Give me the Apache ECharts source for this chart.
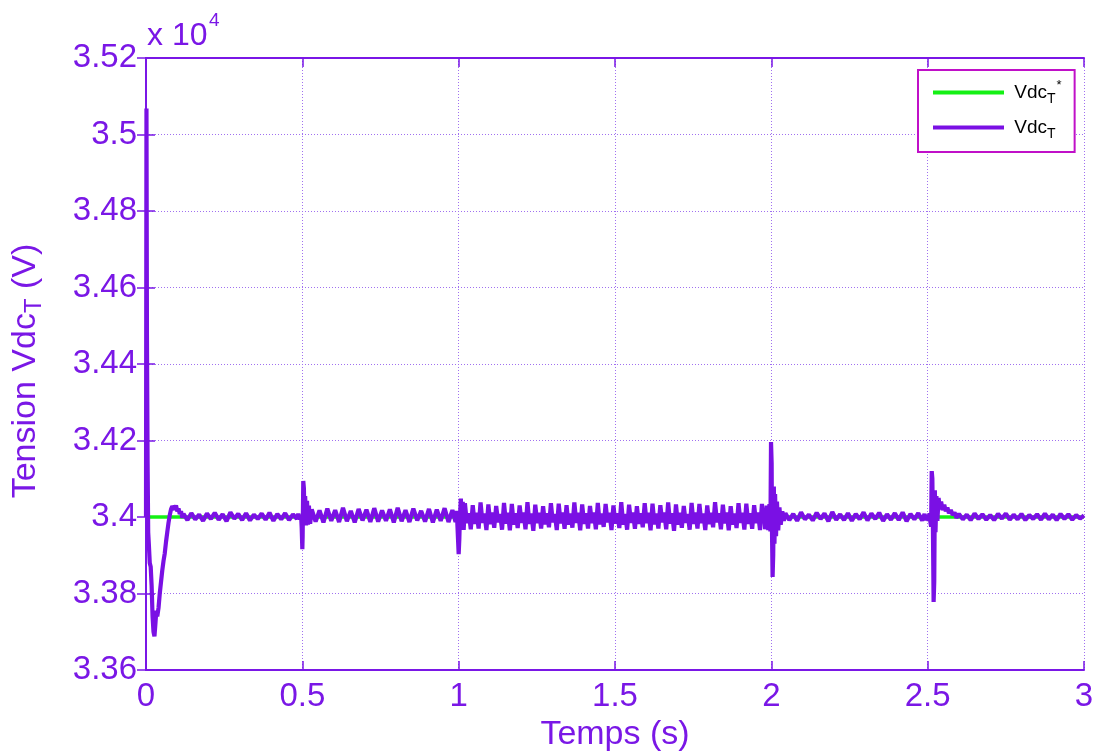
<!DOCTYPE html>
<html>
<head>
<meta charset="utf-8">
<script src="https://cdn.jsdelivr.net/npm/echarts@6/dist/echarts.min.js"></script>
<style>
html,body{margin:0;padding:0;background:#fff;}
#chart{width:1094px;height:756px;}
</style>
</head>
<body>
<div id="chart"></div>
<script>
// ---- Data (time in s, voltage in V) ----
const xTicks = [0, 0.5, 1, 1.5, 2, 2.5, 3];
const yTicks = [33600, 33800, 34000, 34200, 34400, 34600, 34800, 35000, 35200];

// Reference Vdc_T*
const refTime = [0, 3];
const refValue = [34000, 34000];

// Vdc_T : transient events, explicit [t, V]
const eventStart = [
  [0, 34000], [0.0015, 35068], [0.003, 34478], [0.005, 34150], [0.007, 33960], [0.009, 33930],
  [0.012, 33880], [0.015, 33870], [0.018, 33820], [0.021, 33740], [0.024, 33700], [0.027, 33688],
  [0.030, 33720], [0.033, 33755], [0.036, 33740], [0.040, 33762], [0.044, 33800], [0.048, 33830],
  [0.052, 33860], [0.056, 33885], [0.060, 33905], [0.064, 33935], [0.068, 33960], [0.072, 33985],
  [0.076, 34005], [0.080, 34020], [0.084, 34028], [0.088, 34033], [0.092, 34020], [0.096, 34030],
  [0.100, 34015], [0.104, 34022], [0.108, 34008], [0.112, 34015], [0.116, 33998]
];
const event05 = [
  [0.487, 34008], [0.492, 33994], [0.496, 34006], [0.498, 33970], [0.500, 33916], [0.501, 33950],
  [0.503, 34094], [0.505, 34075], [0.507, 33985], [0.509, 34055], [0.512, 33978], [0.515, 34042],
  [0.518, 33980], [0.521, 34030], [0.525, 33982]
];
const event10 = [
  [0.985, 34018], [0.990, 33987], [0.994, 34016], [0.997, 33960], [1.000, 33903], [1.002, 33940],
  [1.004, 34000], [1.007, 34048], [1.010, 33972], [1.013, 34040], [1.016, 33966]
];
const event20 = [
  [1.970, 34034], [1.974, 33984], [1.977, 34010], [1.980, 33968], [1.985, 34030], [1.990, 33966],
  [1.994, 34034], [1.997, 33962], [1.999, 34196], [2.001, 34140],
  [2.002, 33970], [2.004, 33843], [2.006, 33900], [2.008, 34080], [2.010, 33930], [2.012, 34060],
  [2.015, 33950], [2.018, 34040], [2.022, 33965], [2.026, 34025], [2.030, 33980], [2.035, 34015],
  [2.040, 33990]
];
const event25 = [
  [2.490, 34008], [2.495, 33992], [2.500, 34005], [2.503, 33990], [2.506, 34010], [2.509, 33985],
  [2.511, 33975], [2.513, 34120], [2.515, 34100], [2.517, 33955], [2.519, 33778], [2.521, 33830],
  [2.523, 34070], [2.525, 33960], [2.528, 34055], [2.531, 33990], [2.535, 34050], [2.539, 34020],
  [2.543, 34040], [2.548, 34018], [2.553, 34032], [2.558, 34015], [2.563, 34025], [2.568, 34010],
  [2.574, 34018], [2.580, 34005], [2.586, 34012], [2.592, 33998]
];

// Vdc_T : steady ripple, each block sampled at a fixed step from its start time
const rippleStarts = [0.12, 0.53, 1.02, 2.045, 2.6];
const rippleSteps = [0.0125, 0.0125, 0.00625, 0.0125, 0.0125];
const rippleB = [34008, 33992, 34010, 33994, 34006, 33990, 34009, 33995, 34011, 33993,
  34007, 33989, 34012, 33996, 34008, 33992, 34010, 33991, 34006, 33995,
  34009, 33993, 34011, 33990, 34008, 33994, 34010, 33992, 34007, 33995];
const rippleC = [34020, 33988, 34017, 33986, 34022, 33990, 34018, 33987, 34024, 33989,
  34016, 33986, 34021, 33991, 34019, 33987, 34023, 33988, 34017, 33990,
  34020, 33986, 34024, 33989, 34018, 33987, 34022, 33991, 34016, 33988,
  34021, 33986, 34019, 33990, 34023, 33987, 34018];
const rippleD = [
  34036, 33984, 34010, 33968, 34031, 33982, 34011, 33970, 34038, 33985, 34009, 33966,
  34033, 33981, 34012, 33972, 34029, 33986, 34008, 33967, 34037, 33983, 34011, 33965,
  34034, 33980, 34010, 33971, 34030, 33985, 34012, 33968, 34039, 33982, 34009, 33964,
  34032, 33984, 34011, 33970, 34028, 33981, 34010, 33973, 34036, 33986, 34008, 33966,
  34035, 33983, 34012, 33969, 34031, 33980, 34009, 33972, 34038, 33985, 34011, 33965,
  34033, 33982, 34010, 33970, 34029, 33984, 34012, 33968, 34037, 33981, 34009, 33974,
  34034, 33986, 34011, 33966, 34030, 33983, 34010, 33971, 34039, 33980, 34008, 33967,
  34032, 33985, 34012, 33969, 34028, 33982, 34010, 33973, 34036, 33984, 34011, 33965,
  34035, 33981, 34009, 33970, 34031, 33986, 34012, 33968, 34038, 33983, 34010, 33964,
  34033, 33980, 34011, 33972, 34029, 33985, 34008, 33967, 34037, 33982, 34012, 33970,
  34034, 33984, 34009, 33966, 34030, 33981, 34011, 33973, 34039, 33986, 34010, 33968,
  34032, 33983, 34012, 33965, 34028, 33980, 34009, 33971, 34036, 33985, 34011, 33967,
  34035, 33982, 34010, 33969, 34031, 33984, 34012, 33966];
const rippleE = [34010, 33992, 34008, 33990, 34012, 33994, 34006, 33991, 34011, 33995,
  34009, 33989, 34013, 33993, 34007, 33992, 34010, 33990, 34008, 33994,
  34012, 33991, 34009, 33995, 34011, 33990, 34007, 33993, 34010, 33992,
  34012, 33989, 34008, 33994, 34010, 33991];
const rippleF = [34008, 33994, 34006, 33992, 34009, 33995, 34007, 33993, 34005, 33992,
  34008, 33996, 34009, 33993, 34006, 33994, 34008, 33992, 34005, 33995,
  34007, 33993, 34009, 33994, 34006, 33992, 34008, 33995, 34007, 33993,
  34005, 33996, 34004];

// ---- Build series data ----
const rippleSets = [rippleB, rippleC, rippleD, rippleE, rippleF];
let vdcData = [].concat(eventStart, event05, event10, event20, event25);
rippleSets.forEach((vals, k) => {
  vals.forEach((v, i) => vdcData.push([+(rippleStarts[k] + i * rippleSteps[k]).toFixed(5), v]));
});
vdcData.sort((a, b) => a[0] - b[0]);
const refData = refTime.map((t, i) => [t, refValue[i]]);

const purple = '#7A17E6';
const linePurple = '#7A10E4';
const gridPurple = '#A070F0';
const fontFam = '"Liberation Sans", Arial, sans-serif';

const chart = echarts.init(document.getElementById('chart'), null, {renderer: 'canvas'});
const hiddenAxis = {
  axisLabel: {show: false}, splitLine: {show: false},
  axisLine: {show: true, lineStyle: {color: purple, width: 2}},
  axisTick: {show: true, inside: true, length: 9, lineStyle: {color: purple, width: 1.5}}
};
chart.setOption({
  animation: false,
  backgroundColor: '#ffffff',
  grid: {left: 146, right: 10, top: 58, bottom: 86, containLabel: false, outerBoundsMode: 'none'},
  legend: {
    orient: 'vertical',
    left: 918, top: 70,
    padding: [9, 13, 11, 15],
    itemGap: 12,
    itemWidth: 71, itemHeight: 4,
    icon: 'rect',
    backgroundColor: '#ffffff',
    borderColor: '#C010C8', borderWidth: 2, borderRadius: 0,
    data: ['ref', 'vdc'],
    formatter: function (name) {
      return name === 'ref' ? ' Vdc{sub|T}{sup|*}' : ' Vdc{sub|T}';
    },
    textStyle: {
      color: '#000', fontSize: 19, fontFamily: fontFam,
      rich: {
        sub: {fontSize: 14, verticalAlign: 'bottom', padding: [13, 0, 0, 0], fontFamily: fontFam},
        sup: {fontSize: 13, verticalAlign: 'top', padding: [0, 0, 10, 1], fontFamily: fontFam}
      }
    }
  },
  xAxis: [{
    type: 'value', min: 0, max: 3, interval: 0.5,
    name: 'Temps (s)', nameLocation: 'middle', nameGap: 46,
    nameTextStyle: {color: purple, fontSize: 34, fontFamily: fontFam},
    axisLine: {show: true, onZero: false, lineStyle: {color: purple, width: 2}},
    axisTick: {show: true, inside: true, length: 9, lineStyle: {color: purple, width: 1.5}},
    axisLabel: {color: purple, fontSize: 33, fontFamily: fontFam, margin: 10,
      formatter: v => String(+v.toFixed(3))},
    splitLine: {show: true, lineStyle: {color: gridPurple, type: [1, 2], width: 1}}
  }, Object.assign({type: 'value', min: 0, max: 3, interval: 0.5, position: 'top'}, hiddenAxis)],
  yAxis: [{
    type: 'value', min: 33600, max: 35200, interval: 200,
    name: 'Tension Vdc{sub|T} (V)', nameLocation: 'middle', nameGap: 100, nameRotate: 90,
    nameTextStyle: {color: purple, fontSize: 34, fontFamily: fontFam, padding: [0, 14, 0, 0],
      rich: {sub: {fontSize: 24, color: purple, fontFamily: fontFam, verticalAlign: 'bottom', padding: [16, 0, 0, 0]}}},
    axisLine: {show: true, onZero: false, lineStyle: {color: purple, width: 2}},
    axisTick: {show: true, inside: true, length: 9, lineStyle: {color: purple, width: 1.5}},
    axisLabel: {color: purple, fontSize: 33, fontFamily: fontFam, margin: 9,
      formatter: v => String(+(v / 10000).toFixed(4))},
    splitLine: {show: true, lineStyle: {color: gridPurple, type: [1, 2], width: 1}}
  }, Object.assign({type: 'value', min: 33600, max: 35200, interval: 200, position: 'right'}, hiddenAxis)],
  graphic: [
    {type: 'text', left: 147, top: 20, style: {text: 'x 10', fill: purple, fontSize: 32, fontFamily: fontFam}},
    {type: 'text', left: 209, top: 11, style: {text: '4', fill: purple, fontSize: 19, fontFamily: fontFam}}
  ],
  series: [
    {name: 'ref', type: 'line', data: refData, showSymbol: false, symbol: 'none',
      lineStyle: {color: '#14F014', width: 3.5}, itemStyle: {color: '#14F014'}, z: 2},
    {name: 'vdc', type: 'line', data: vdcData, showSymbol: false, symbol: 'none',
      lineStyle: {color: linePurple, width: 4.2}, itemStyle: {color: linePurple}, z: 3}
  ]
});
</script>
</body>
</html>
